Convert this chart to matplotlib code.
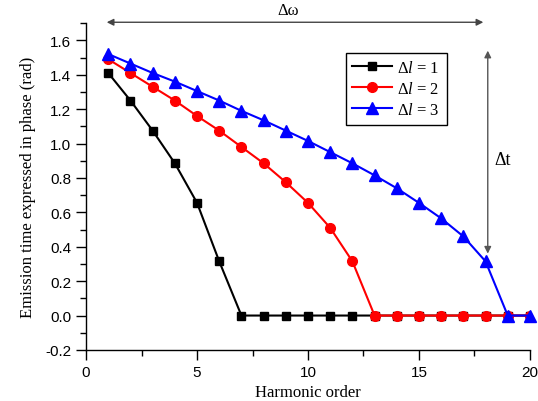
import matplotlib.pyplot as plt
import numpy as np
from matplotlib.ticker import MultipleLocator

orden = np.arange(1, 21)

# Delta l = 1, 2, 3
fase_l1 = [1.41, 1.25, 1.075, 0.885, 0.655, 0.315, 0, 0, 0, 0,
           0, 0, 0, 0, 0, 0, 0, 0, 0, 0]
fase_l2 = [1.49, 1.41, 1.33, 1.25, 1.16, 1.075, 0.98, 0.885, 0.775, 0.655,
           0.51, 0.315, 0, 0, 0, 0, 0, 0, 0, 0]
fase_l3 = [1.52, 1.465, 1.41, 1.36, 1.305, 1.25, 1.19, 1.135, 1.075, 1.015,
           0.95, 0.885, 0.815, 0.74, 0.655, 0.565, 0.46, 0.315, 0, 0]

etiquetas = [r"Δ$\it{l}$ = $\it{1}$", r"Δ$\it{l}$ = 2", r"Δ$\it{l}$ = 3"]

serif = "Liberation Serif"
plt.rcParams['font.family'] = ['Liberation Sans', 'DejaVu Sans']
plt.rcParams['mathtext.fontset'] = 'custom'
plt.rcParams['mathtext.rm'] = serif
plt.rcParams['mathtext.it'] = serif + ':italic'

fig = plt.figure(figsize=(5.38, 4.02), dpi=100)
ax = fig.add_axes([0.16, 0.127, 0.825, 0.813])

ax.plot(orden, fase_l1, color='black', marker='s', markersize=6, linewidth=1.5, label=etiquetas[0])
ax.plot(orden, fase_l2, color='red', marker='o', markersize=7, linewidth=1.5, label=etiquetas[1])
ax.plot(orden, fase_l3, color='blue', marker='^', markersize=8, linewidth=1.5, label=etiquetas[2], clip_on=False)

ax.set_xlim(0, 20)
ax.set_ylim(-0.2, 1.7)
ax.set_yticks(np.arange(-0.2, 1.61, 0.2))
ax.set_yticklabels([f"{v:.1f}" for v in np.arange(-0.2, 1.61, 0.2)])
ax.xaxis.set_major_locator(MultipleLocator(5))
ax.xaxis.set_minor_locator(MultipleLocator(2.5))
ax.yaxis.set_minor_locator(MultipleLocator(0.1))
ax.tick_params(which='major', direction='out', length=7, width=1, labelsize=11)
ax.tick_params(which='minor', direction='out', length=4, width=1)
ax.spines['top'].set_visible(False)
ax.spines['right'].set_visible(False)
for s in ['left', 'bottom']:
    ax.spines[s].set_linewidth(1)

ax.set_xlabel("Harmonic order", family=serif, fontsize=12, labelpad=4)
ax.set_ylabel("Emission time expressed in phase (rad)", family=serif, fontsize=12, labelpad=7)

leg = ax.legend(loc='upper left', bbox_to_anchor=(0.585, 0.908), fancybox=False, edgecolor='black',
                prop={'family': serif, 'size': 12}, handlelength=2.4, handletextpad=0.3,
                borderpad=0.4, labelspacing=0.3, borderaxespad=0, framealpha=1)
leg.get_frame().set_linewidth(1)

# flechas
ax.annotate("", xy=(0.93, 1.705), xytext=(17.9, 1.705),
            arrowprops=dict(arrowstyle='<|-|>', color='#444444', lw=1, mutation_scale=10,
                            shrinkA=0, shrinkB=0), annotation_clip=False)
ax.text(9.1, 1.73, "Δω", ha='center', va='bottom', fontsize=12, family=serif)
ax.annotate("", xy=(18.1, 1.54), xytext=(18.1, 0.36),
            arrowprops=dict(arrowstyle='<|-|>', color='#555555', lw=1, mutation_scale=10,
                            shrinkA=0, shrinkB=0))
ax.text(18.4, 0.91, "Δt", ha='left', va='center', fontsize=13, family=serif)

fig.savefig("out.png", dpi=100)
